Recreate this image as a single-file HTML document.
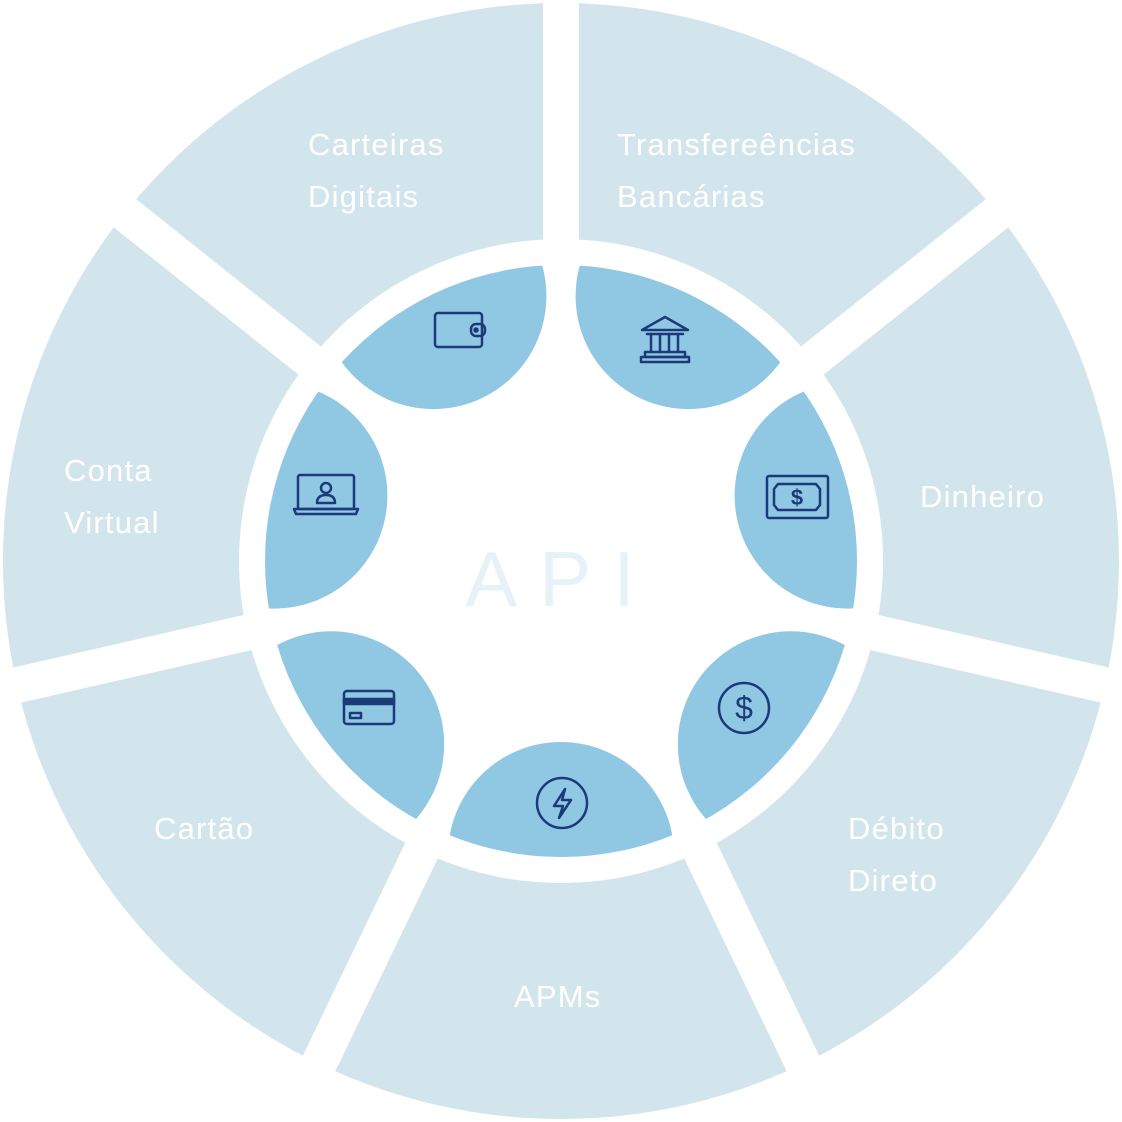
<!DOCTYPE html>
<html><head><meta charset="utf-8"><style>
html,body{margin:0;padding:0;background:#fff;}
svg{display:block}
text{font-family:"Liberation Sans",sans-serif;}
</style></head><body>
<svg width="1122" height="1122" viewBox="0 0 1122 1122" xmlns="http://www.w3.org/2000/svg">
<defs>
<clipPath id="inner"><circle cx="561" cy="561" r="296"/></clipPath>
</defs>
<path fill="#d3e5ec" fill-rule="evenodd" d="M561,3 A558,558 0 1,1 560.9,3 Z M561,239 A322,322 0 1,0 561.1,239 Z"/>
<g stroke="#fff" stroke-width="36">
<line x1="561" y1="561" x2="561" y2="-39"/>
<line x1="561" y1="561" x2="1030.1" y2="186.9"/>
<line x1="561" y1="561" x2="1146" y2="694.5"/>
<line x1="561" y1="561" x2="821.3" y2="1101.6"/>
<line x1="561" y1="561" x2="300.7" y2="1101.6"/>
<line x1="561" y1="561" x2="-24" y2="694.5"/>
<line x1="561" y1="561" x2="91.9" y2="186.9"/>
</g>
<g fill="#90c8e4" clip-path="url(#inner)">
<circle cx="688.6" cy="296.1" r="113"/>
<circle cx="847.6" cy="495.6" r="113"/>
<circle cx="790.8" cy="744.3" r="113"/>
<circle cx="561" cy="855" r="113"/>
<circle cx="331.2" cy="744.3" r="113"/>
<circle cx="274.4" cy="495.6" r="113"/>
<circle cx="433.4" cy="296.1" r="113"/>
</g>
<text x="561" y="606" text-anchor="middle" font-size="78" fill="#e6f2f8" letter-spacing="22">API</text>
<g fill="#fff" font-size="31" letter-spacing="1.2">
<text x="308" y="155">Carteiras</text><text x="308" y="207">Digitais</text>
<text x="617" y="155">Transfereências</text><text x="617" y="207">Bancárias</text>
<text x="920" y="507">Dinheiro</text>
<text x="848" y="839">Débito</text><text x="848" y="891">Direto</text>
<text x="514" y="1007">APMs</text>
<text x="154" y="839">Cartão</text>
<text x="64" y="481">Conta</text><text x="64" y="533">Virtual</text>
</g>
<g fill="none" stroke="#1b3a7a" stroke-width="2.5" stroke-linejoin="round" stroke-linecap="round">
<g transform="translate(459,330)">
<rect x="-24" y="-17" width="47" height="34" rx="3"/>
<rect x="12" y="-6" width="14" height="12" rx="5"/>
<circle cx="17" cy="0" r="1.5" fill="#1b3a7a"/>
</g>
<g transform="translate(665,338)">
<path d="M-23,-8 L0,-21 L23,-8 Z"/>
<line x1="-18" y1="-4" x2="18" y2="-4"/>
<line x1="-14" y1="-4" x2="-14" y2="14"/><line x1="-5" y1="-4" x2="-5" y2="14"/><line x1="4" y1="-4" x2="4" y2="14"/><line x1="13" y1="-4" x2="13" y2="14"/>
<rect x="-20" y="14" width="40" height="5"/>
<rect x="-24" y="19" width="48" height="5"/>
</g>
<g transform="translate(797,497)">
<rect x="-30" y="-21" width="61" height="42" rx="2"/>
<path d="M-19,-13 L19,-13 L23,-8 L23,8 L19,13 L-19,13 L-23,8 L-23,-8 Z"/>
<text x="0" y="8" text-anchor="middle" font-size="22" fill="#1b3a7a" stroke="none" font-weight="bold">$</text>
</g>
<g transform="translate(744,708)">
<circle r="25"/>
<text x="0" y="11" text-anchor="middle" font-size="32" fill="#1b3a7a" stroke="none">$</text>
</g>
<g transform="translate(562,803)">
<circle r="25"/>
<path d="M3,-14 L-8,3 L1,3 L-3,15 L9,-3 L0,-3 Z"/>
</g>
<g transform="translate(369,707)">
<rect x="-25" y="-16" width="50" height="33" rx="3"/>
<rect x="-25" y="-8" width="50" height="5" fill="#1b3a7a"/>
<rect x="-19" y="6" width="11" height="5"/>
</g>
<g transform="translate(326,494)">
<rect x="-28" y="-19" width="56" height="34" rx="2"/>
<path d="M-32,15 L32,15 L30,20 L-30,20 Z"/>
<circle cx="0" cy="-6" r="5"/>
<path d="M-9,9 Q-9,1 0,1 Q9,1 9,9 Z"/>
</g>
</g>
</svg>
</body></html>
